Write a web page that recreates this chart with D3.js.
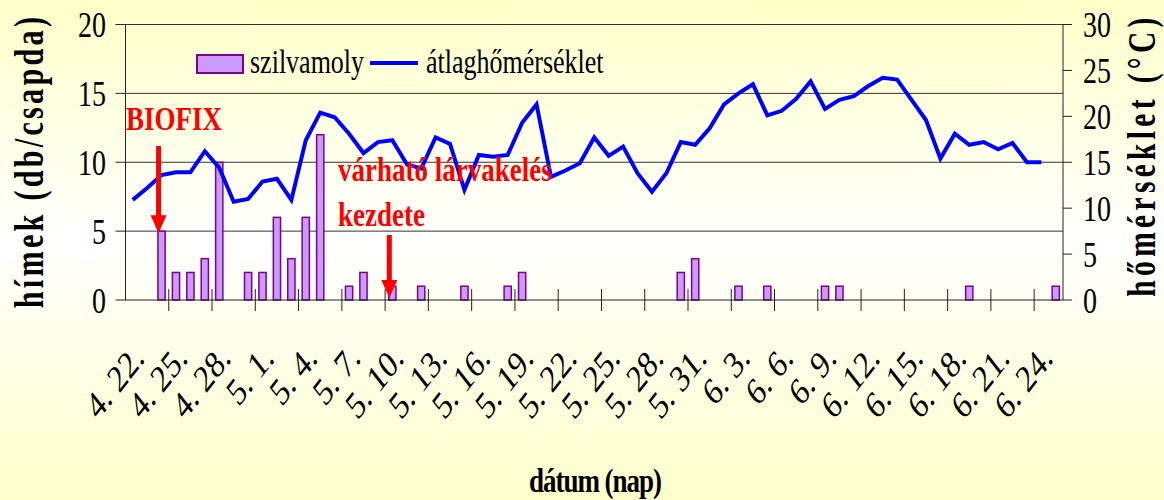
<!DOCTYPE html>
<html>
<head>
<meta charset="utf-8">
<script src="https://cdn.jsdelivr.net/npm/d3@7/dist/d3.min.js"></script>
<style>
  html, body { margin: 0; padding: 0; background: #fff; }
  svg { display: block; }
  text { font-family: "Liberation Serif", "Times New Roman", serif; }
</style>
</head>
<body>
<svg id="chart" width="1164" height="500"></svg>
<script>
// categories: days from 4.22 to 6.25
var dates = [
  "4. 22.","4. 23.","4. 24.","4. 25.","4. 26.","4. 27.","4. 28.","4. 29.","4. 30.",
  "5. 1.","5. 2.","5. 3.","5. 4.","5. 5.","5. 6.","5. 7.","5. 8.","5. 9.","5. 10.",
  "5. 11.","5. 12.","5. 13.","5. 14.","5. 15.","5. 16.","5. 17.","5. 18.","5. 19.","5. 20.",
  "5. 21.","5. 22.","5. 23.","5. 24.","5. 25.","5. 26.","5. 27.","5. 28.","5. 29.","5. 30.","5. 31.",
  "6. 1.","6. 2.","6. 3.","6. 4.","6. 5.","6. 6.","6. 7.","6. 8.","6. 9.","6. 10.",
  "6. 11.","6. 12.","6. 13.","6. 14.","6. 15.","6. 16.","6. 17.","6. 18.","6. 19.","6. 20.",
  "6. 21.","6. 22.","6. 23.","6. 24.","6. 25."
];

// szilvamoly catches (db/csapda)
var himek = [
  0, 0, 5, 2, 2, 3, 10, 0, 2,
  2, 6, 3, 6, 12, 0, 1, 2, 0, 1,
  0, 1, 0, 0, 1, 0, 0, 1, 2, 0,
  0, 0, 0, 0, 0, 0, 0, 0, 0, 2, 3,
  0, 0, 1, 0, 1, 0, 0, 0, 1, 1,
  0, 0, 0, 0, 0, 0, 0, 0, 1, 0,
  0, 0, 0, 0, 1
];

// daily mean temperature (°C)
var atlagho = [
  10.9, 12.2, 13.6, 13.9, 13.9, 16.2, 14.4, 10.7, 11.0,
  12.9, 13.2, 10.9, 17.4, 20.4, 19.9, 18.1, 16.0, 17.2, 17.4,
  14.8, 14.3, 17.7, 17.0, 12.0, 15.8, 15.6, 15.8, 19.3, 21.3,
  13.4, 14.1, 14.9, 17.7, 15.7, 16.7, 13.8, 11.8, 13.8, 17.2, 16.9,
  18.7, 21.3, 22.5, 23.5, 20.1, 20.6, 21.9, 23.8, 20.8, 21.8,
  22.2, 23.3, 24.2, 24.0, 21.8, 19.6, 15.4, 18.1, 16.9, 17.2,
  16.4, 17.1, 15.0, 15.0, null
];

var tickLabels = ["4. 22.","4. 25.","4. 28.","5. 1.","5. 4.","5. 7.","5. 10.","5. 13.","5. 16.",
  "5. 19.","5. 22.","5. 25.","5. 28.","5. 31.","6. 3.","6. 6.","6. 9.","6. 12.","6. 15.",
  "6. 18.","6. 21.","6. 24."];
var leftTicks = [0, 5, 10, 15, 20];
var rightTicks = [0, 5, 10, 15, 20, 25, 30];

var svg = d3.select("#chart");
var W = 1164, H = 500;
var SY = 1.28; // the picture is stretched vertically

var plot = {left: 125.5, right: 1063, top: 24.5, bottom: 300};

// background gradient
var defs = svg.append("defs");
var grad = defs.append("linearGradient").attr("id", "bg")
  .attr("x1", 0).attr("y1", 0).attr("x2", 0).attr("y2", 1);
grad.append("stop").attr("offset", "0%").attr("stop-color", "#FFFFC8");
grad.append("stop").attr("offset", "48%").attr("stop-color", "#FFFFFE");
grad.append("stop").attr("offset", "100%").attr("stop-color", "#FFFFCC");
svg.append("rect").attr("width", W).attr("height", H).attr("fill", "url(#bg)");

var x = d3.scaleBand().domain(dates)
  .range([plot.left, plot.right])
  .paddingInner(0.5).paddingOuter(0.25);
var step = x.step();
var cx = function(d) { return x(d) + x.bandwidth() / 2; };

var yL = d3.scaleLinear().domain([0, 20]).range([plot.bottom, plot.top]);
var yR = d3.scaleLinear().domain([0, 30]).range([plot.bottom, plot.top]);

// stretched text helper
function stext(g, px, py, str, rot) {
  return g.append("text")
    .attr("transform", "translate(" + px + "," + py + ") scale(1," + SY + ")" + (rot ? " rotate(" + rot + ")" : ""))
    .text(str);
}
// vertical titles are condensed along their own length
function vtext(g, px, py, str) {
  return g.append("text")
    .attr("transform", "translate(" + px + "," + py + ") rotate(-90) scale(0.72,1)")
    .attr("text-anchor", "middle")
    .text(str);
}

// gridlines
svg.append("g").selectAll("line").data(leftTicks.filter(function(d) { return d > 0; }))
  .enter().append("line")
  .attr("x1", plot.left).attr("x2", plot.right)
  .attr("y1", function(d) { return yL(d); }).attr("y2", function(d) { return yL(d); })
  .attr("stroke", "#333").attr("stroke-width", 1);

// bars
svg.append("g").selectAll("rect")
  .data(dates.map(function(d, i) { return {date: d, v: himek[i]}; }).filter(function(d) { return d.v > 0; }))
  .enter().append("rect")
  .attr("x", function(d) { return x(d.date); })
  .attr("y", function(d) { return yL(d.v); })
  .attr("width", x.bandwidth())
  .attr("height", function(d) { return yL(0) - yL(d.v); })
  .attr("fill", "#CC99FF").attr("stroke", "#800080").attr("stroke-width", 1.5);

// temperature line
var line = d3.line()
  .defined(function(d) { return d.v != null; })
  .x(function(d) { return cx(d.date); })
  .y(function(d) { return yR(d.v); });
svg.append("path")
  .datum(dates.map(function(d, i) { return {date: d, v: atlagho[i]}; }))
  .attr("d", line)
  .attr("fill", "none").attr("stroke", "#0000FF").attr("stroke-width", 4)
  .attr("stroke-linejoin", "miter");

// axes lines
var ax = svg.append("g").attr("stroke", "#222").attr("stroke-width", 1);
ax.append("line").attr("x1", plot.left).attr("x2", plot.right).attr("y1", plot.bottom).attr("y2", plot.bottom);
ax.append("line").attr("x1", plot.left).attr("x2", plot.left).attr("y1", plot.top).attr("y2", plot.bottom);
ax.append("line").attr("x1", plot.right).attr("x2", plot.right).attr("y1", plot.top).attr("y2", plot.bottom);

// x ticks every third category boundary
dates.forEach(function(d, i) {
  if (i > 0 && i % 3 === 0) {
    var bx = x(d) - step * 0.25;
    ax.append("line").attr("x1", bx).attr("x2", bx).attr("y1", plot.bottom - 11).attr("y2", plot.bottom + 11);
  }
});
// left ticks
leftTicks.forEach(function(t) {
  ax.append("line").attr("x1", plot.left - 10).attr("x2", plot.left).attr("y1", yL(t)).attr("y2", yL(t));
});
rightTicks.forEach(function(t) {
  ax.append("line").attr("x1", plot.right).attr("x2", plot.right + 9).attr("y1", yR(t)).attr("y2", yR(t));
});

// tick labels
var tl = svg.append("g").attr("font-size", 28).attr("fill", "#000");
leftTicks.forEach(function(t) {
  stext(tl, 106, yL(t), t).attr("text-anchor", "end").attr("dy", "0.35em");
});
rightTicks.forEach(function(t) {
  stext(tl, 1083, yR(t), t).attr("text-anchor", "start").attr("dy", "0.35em");
});
tickLabels.forEach(function(lbl) {
  stext(tl, cx(lbl) + 13, 360, lbl, -45).attr("text-anchor", "end").attr("font-size", 30);
});

// axis titles
var tt = svg.append("g").attr("font-weight", "bold").attr("fill", "#000");
vtext(tt, 43, 161, "hímek (db/csapda)").attr("font-size", 42).style("letter-spacing", "4.5px");
vtext(tt, 1155, 155, "hőmérséklet (°C)").attr("font-size", 41).style("letter-spacing", "6px");
stext(tt, 595, 492, "dátum (nap)").attr("text-anchor", "middle").attr("font-size", 27).style("letter-spacing", "-1px");

// legend
var lg = svg.append("g").attr("font-size", 26);
lg.append("rect").attr("x", 197).attr("y", 55).attr("width", 46).attr("height", 18)
  .attr("fill", "#CC99FF").attr("stroke", "#800080").attr("stroke-width", 2);
stext(lg, 250, 73, "szilvamoly");
lg.append("line").attr("x1", 370).attr("x2", 418).attr("y1", 63).attr("y2", 63)
  .attr("stroke", "#0000FF").attr("stroke-width", 4);
stext(lg, 426, 73, "átlaghőmérséklet");

// annotations
var an = svg.append("g").attr("fill", "#FF0000").attr("font-size", 27).attr("font-weight", "bold");
stext(an, 126, 130, "BIOFIX");
stext(an, 338, 181, "várható lárvakelés");
stext(an, 338, 226, "kezdete");

function arrow(px, yTop, yTip) {
  an.append("line").attr("x1", px).attr("x2", px).attr("y1", yTop).attr("y2", yTip - 16)
    .attr("stroke", "#FF0000").attr("stroke-width", 5);
  an.append("path")
    .attr("d", "M" + (px - 8) + "," + (yTip - 18) + "L" + (px + 8) + "," + (yTip - 18) + "L" + px + "," + yTip + "Z")
    .attr("fill", "#FF0000");
}
arrow(cx("4. 24.") - 3, 146, yL(5) + 2);
arrow(cx("5. 10.") - 3, 235, yL(0) - 2);
</script>
</body>
</html>
